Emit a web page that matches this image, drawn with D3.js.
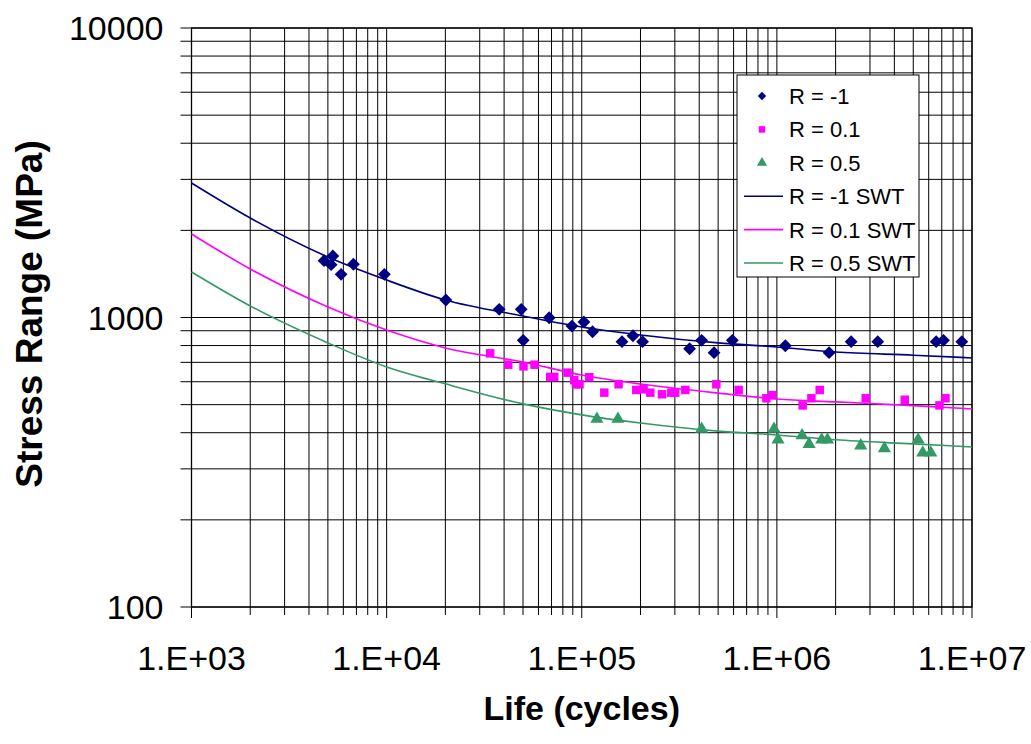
<!DOCTYPE html>
<html>
<head>
<meta charset="utf-8">
<script src="https://cdn.jsdelivr.net/npm/d3@7"></script>
<style>
    body { margin: 0; background: #fff; }
    text { font-family: Arial, "Liberation Sans", sans-serif; }
</style>
</head>
<body>
<div id="chart"></div>
<script>

// test data (cycles, MPa)
var rm1_N = [4780, 5300, 5193, 5845, 6756, 9743, 20120, 37750, 48950, 50120, 68100, 89060, 102600, 113600,
    160800, 183000, 205000, 357000, 411500, 476400, 591300, 1105000, 1852000, 2402000, 3288000, 6551000, 7141000, 8867000];
var rm1_S = [1571, 1631, 1522, 1410, 1527, 1410, 1149, 1067, 1067, 834, 998, 934, 965, 893,
    825, 865, 825, 780, 834, 756, 834, 799, 756, 825, 825, 825, 834, 825];

var r01_N = [33950, 42000, 50290, 57280, 68930, 72280, 84580, 91510, 93370, 97400, 109300, 130500, 154400, 190300,
    207500, 224600, 257800, 287700, 301600, 339500, 489500, 637000, 883400, 948200, 1356000, 1503000, 1658000,
    2854000, 4523000, 6813000, 7312000];
var r01_S = [752, 687, 678, 687, 623, 623, 645, 608, 588, 588, 622, 550, 588, 562,
    565, 550, 543, 550, 550, 562, 588, 562, 526, 539, 497, 526, 562,
    526, 520, 497, 526];

var r05_N = [119600, 153300, 411500, 967300, 1014000, 1346000, 1463000, 1697000, 1816000, 2690000, 3558000,
    5298000, 5594000, 6148000];
var r05_S = [446, 446, 412, 412, 378, 391, 365, 378, 378, 361, 353, 378, 341, 341];

// SWT predictions
var swt_N = [1e3, 2e3, 5e3, 1e4, 2e4, 5e4, 1e5, 2e5, 5e5, 1e6, 2e6, 5e6, 1e7];
var swt_rm1 = [2914, 2206, 1618, 1347, 1149, 1012, 927, 870, 817, 791, 760, 741, 725];
var swt_r01 = [1943, 1471, 1087, 905, 785, 702, 633, 589, 548, 523, 511, 496, 483];
var swt_r05 = [1436, 1096, 817, 675, 590, 503, 461, 432, 405, 393, 378, 366, 357];

var xTicks = [1e3, 1e4, 1e5, 1e6, 1e7];
var yTicks = [100, 1000, 10000];

var navy = "#000080", pink = "#ff00ff", green = "#339966";

function zip(a, b) {
    return a.map(function(d, i){ return {n: d, s: b[i]}; });
}

var margin = {top: 28, right: 59, bottom: 137, left: 191.5};
var width = 1031 - margin.left - margin.right;
var height = 744 - margin.top - margin.bottom;

var svg = d3.select("#chart").append("svg")
    .attr("width", 1031)
    .attr("height", 744)
    .append("g")
    .attr("transform", "translate(" + margin.left + "," + margin.top + ")");

var x = d3.scaleLog().domain([1e3, 1e7]).range([0, width]);
var y = d3.scaleLog().domain([100, 10000]).range([height, 0]);

// all the 1-9 lines in each decade
var xGrid = x.ticks(40);
var yGrid = y.ticks(20);

svg.append("g").selectAll("line")
    .data(xGrid)
    .enter().append("line")
    .attr("x1", function(d){ return x(d); })
    .attr("x2", function(d){ return x(d); })
    .attr("y1", 0)
    .attr("y2", function(d){ return height + (xTicks.indexOf(d) >= 0 ? 11 : 8); })
    .attr("stroke", "#000")
    .attr("stroke-width", 1);

svg.append("g").selectAll("line")
    .data(yGrid)
    .enter().append("line")
    .attr("x1", -11)
    .attr("x2", width)
    .attr("y1", function(d){ return y(d); })
    .attr("y2", function(d){ return y(d); })
    .attr("stroke", "#000")
    .attr("stroke-width", 1);

// plot frame
svg.append("rect")
    .attr("width", width)
    .attr("height", height)
    .attr("fill", "none")
    .attr("stroke", "#000")
    .attr("stroke-width", 1.3);

// tick labels
svg.append("g").selectAll("text")
    .data(xTicks)
    .enter().append("text")
    .attr("x", function(d){ return x(d); })
    .attr("y", height + 63)
    .attr("text-anchor", "middle")
    .attr("font-size", 34)
    .text(function(d){ return "1.E+" + d3.format("02")(Math.round(Math.log10(d))); });

svg.append("g").selectAll("text")
    .data(yTicks)
    .enter().append("text")
    .attr("x", -28)
    .attr("y", function(d){ return y(d); })
    .attr("dy", "0.36em")
    .attr("text-anchor", "end")
    .attr("font-size", 34)
    .text(function(d){ return d; });

// axis titles
svg.append("text")
    .attr("x", width / 2)
    .attr("y", height + 113)
    .attr("text-anchor", "middle")
    .attr("font-size", 34)
    .attr("font-weight", "bold")
    .text("Life (cycles)");

svg.append("text")
    .attr("transform", "translate(" + (42 - margin.left) + "," + (314 - margin.top) + ") rotate(-90)")
    .attr("text-anchor", "middle")
    .attr("font-size", 37)
    .attr("font-weight", "bold")
    .text("Stress Range (MPa)");

// SWT curves
var line = d3.line()
    .x(function(d){ return x(d.n); })
    .y(function(d){ return y(d.s); })
    .curve(d3.curveMonotoneX);

[[swt_rm1, navy], [swt_r01, pink], [swt_r05, green]].forEach(function(c){
    svg.append("path")
        .datum(zip(swt_N, c[0]))
        .attr("d", line)
        .attr("fill", "none")
        .attr("stroke", c[1])
        .attr("stroke-width", 1.6);
});

// markers
var diamond = d3.symbol().type(d3.symbolDiamond2).size(105);
var square = d3.symbol().type(d3.symbolSquare).size(72);
var triangle = d3.symbol().type(d3.symbolTriangle).size(75);

function drawPoints(data, sym, color) {
    svg.append("g").selectAll("path")
        .data(data)
        .enter().append("path")
        .attr("d", sym)
        .attr("transform", function(d){ return "translate(" + x(d.n) + "," + y(d.s) + ")"; })
        .attr("fill", color);
}
drawPoints(zip(rm1_N, rm1_S), diamond, navy);
drawPoints(zip(r01_N, r01_S), square, pink);
drawPoints(zip(r05_N, r05_S), triangle, green);

// legend
var legend = svg.append("g")
    .attr("transform", "translate(" + (737 - margin.left) + "," + (75 - margin.top) + ")");

legend.append("rect")
    .attr("width", 182)
    .attr("height", 202)
    .attr("fill", "#fff")
    .attr("stroke", "#000")
    .attr("stroke-width", 1);

var items = [
    {label: "R = -1", color: navy, sym: d3.symbol().type(d3.symbolDiamond2).size(45)},
    {label: "R = 0.1", color: pink, sym: d3.symbol().type(d3.symbolSquare).size(42)},
    {label: "R = 0.5", color: green, sym: d3.symbol().type(d3.symbolTriangle).size(45)},
    {label: "R = -1 SWT", color: navy},
    {label: "R = 0.1 SWT", color: pink},
    {label: "R = 0.5 SWT", color: green}
];

var row = legend.selectAll(".row")
    .data(items)
    .enter().append("g")
    .attr("class", "row")
    .attr("transform", function(d, i){ return "translate(0," + (21 + i * 33.4) + ")"; });

row.each(function(d){
    var g = d3.select(this);
    if (d.sym) {
        g.append("path")
            .attr("d", d.sym)
            .attr("transform", "translate(25,0)")
            .attr("fill", d.color);
    } else {
        g.append("line")
            .attr("x1", 7).attr("x2", 46)
            .attr("stroke", d.color)
            .attr("stroke-width", 1.6);
    }
});

row.append("text")
    .attr("x", 52)
    .attr("dy", "0.36em")
    .attr("font-size", 22)
    .text(function(d){ return d.label; });

</script>
</body>
</html>
